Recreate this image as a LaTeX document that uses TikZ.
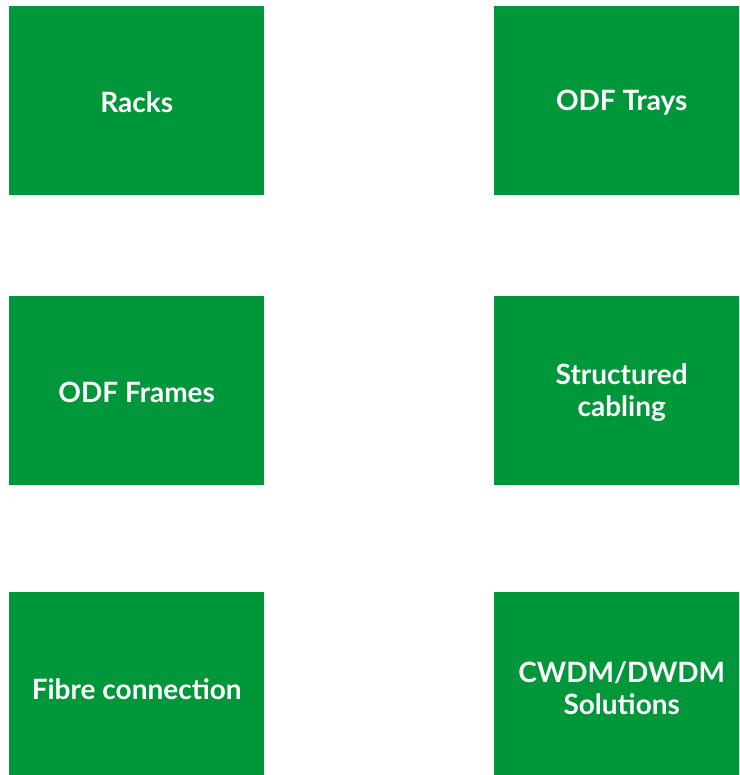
\documentclass[tikz,border=0pt]{standalone}
\usepackage{fontspec}
\setmainfont{Lato}[UprightFont=* Bold]
\definecolor{boxgreen}{RGB}{0,150,58}
\begin{document}
\begin{tikzpicture}[x=1pt,y=-1pt,
  tile/.style={fill=boxgreen,draw=none,minimum width=255pt,minimum height=189pt,inner sep=0pt,anchor=north west},
  tiletext/.style={text=white,inner sep=0pt,align=center,yshift=-2pt,font=\fontsize{28}{32}\selectfont}]
\useasboundingbox (0,0) rectangle (739,775);
\begin{scope}
\clip (0,0) rectangle (739,775);
\node[tile] (racks) at (9,6) {};
\node[tile] (trays) at (494,6) {};
\node[tile] (frames) at (9,296) {};
\node[tile] (cabling) at (494,296) {};
\node[tile] (fibre) at (9,592) {};
\node[tile] (cwdm) at (494,592) {};
\node[tiletext] (t1) at (racks.center) {Racks};
\node[tiletext] (t2) at (trays.center) {ODF Trays};
\node[tiletext] (t3) at (frames.center) {ODF Frames};
\node[tiletext] (t4) at (cabling.center) {Structured\\cabling};
\node[tiletext] (t5) at (fibre.center) {Fibre connection};
\node[tiletext] (t6) at (cwdm.center) {CWDM/DWDM\\Solutions};
\end{scope}
\end{tikzpicture}
\end{document}
